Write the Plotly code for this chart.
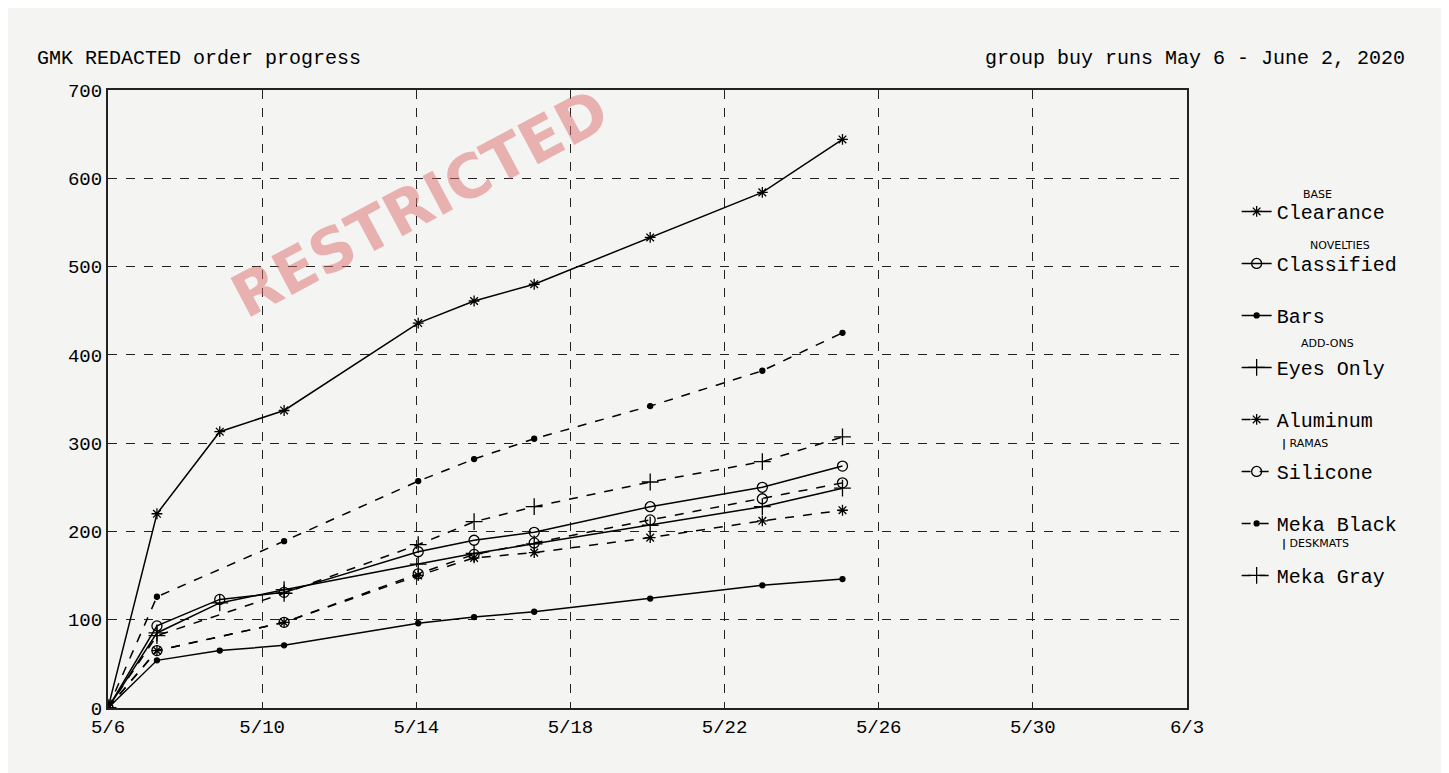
import plotly.graph_objects as go

# days in May when counts were recorded
days = [6, 7.27, 8.9, 10.57, 14.05, 15.5, 17.06, 20.07, 22.98, 25.06]
tick_days = [6, 10, 14, 18, 22, 26, 30, 34]
tick_labels = ['5/6', '5/10', '5/14', '5/18', '5/22', '5/26', '5/30', '6/3']

clearance = [0, 220, 313, 337, 436, 461, 480, 533, 584, 644]
classified = [0, 93, 123, 131, 177, 190, 199, 228, 250, 274]
bars = [0, 54, 65, 71, 96, 103, 109, 124, 139, 146]
eyes_only = [0, 85, 119, 134, 163, 175, 186, 207, 228, 249]
aluminum = [0, 65, None, 97, 150, 170, 176, 193, 212, 224]
silicone = [0, 65, None, 97, 152, 174, 187, 213, 237, 255]
meka_black = [0, 126, None, 189, 257, 282, 305, 342, 382, 425]
meka_gray = [0, 82, None, 130, 185, 211, 228, 256, 279, 307]

series = [
    ('Clearance', clearance, 'solid', 'asterisk-open', 9),
    ('Classified', classified, 'solid', 'circle-open', 10),
    ('Bars', bars, 'solid', 'circle', 5),
    ('Eyes Only', eyes_only, 'solid', 'cross-thin-open', 12),
    ('Aluminum', aluminum, 'dash', 'asterisk-open', 9),
    ('Silicone', silicone, 'dash', 'circle-open', 10),
    ('Meka Black', meka_black, 'dash', 'circle', 5),
    ('Meka Gray', meka_gray, 'dash', 'cross-thin-open', 12),
]

mono = 'Liberation Mono, Courier New, monospace'
fig = go.Figure()
for name, vals, dash, sym, size in series:
    fig.add_trace(go.Scatter(
        x=days, y=vals, name=name, legendgroup=name, mode='lines+markers', connectgaps=True,
        line=dict(color='black', width=1.5, dash=dash),
        marker=dict(symbol=sym, size=size, color='black', line=dict(color='black', width=1.3)),
    ))

axis_style = dict(showline=True, linecolor='#222', linewidth=2, mirror=True,
                  showgrid=True, gridcolor='#222', griddash='dash', gridwidth=1,
                  ticks='', zeroline=False, tickfont=dict(family=mono, size=19, color='black'))
fig.update_xaxes(range=[6, 34], tickvals=tick_days, ticktext=tick_labels, **axis_style)
fig.update_yaxes(range=[0, 700], dtick=100, **axis_style)

fig.update_layout(
    width=1449, height=773,
    margin=dict(l=100, r=270, t=82, b=73),
    paper_bgcolor='#f4f4f2', plot_bgcolor='#f4f4f2',
    font=dict(family=mono, color='black'),
    legend=dict(x=1.046, y=0.835, yanchor='top', font=dict(size=20, family=mono),
                tracegroupgap=23, bgcolor='rgba(0,0,0,0)'),
)

fig.add_annotation(text='GMK REDACTED order progress', xref='paper', yref='paper',
                   x=-0.068, y=1.073, xanchor='left', showarrow=False, font=dict(size=20))
fig.add_annotation(text='group buy runs May 6 - June 2, 2020', xref='paper', yref='paper',
                   x=1.204, y=1.073, xanchor='right', showarrow=False, font=dict(size=20))
fig.add_annotation(text='<b>RESTRICTED</b>', x=14.1, y=572, showarrow=False, textangle=-28,
                   font=dict(size=60, family='DejaVu Sans', color='rgba(220,110,110,0.5)'))

hand = dict(xref='paper', yref='paper', showarrow=False, xanchor='left',
            font=dict(size=11, family='DejaVu Sans'))
for txt, xx, yy in [('BASE', 1.106, 0.845), ('NOVELTIES', 1.112, 0.762), ('ADD-ONS', 1.104, 0.59),
                    ('<b>|</b> RAMAS', 1.086, 0.428), ('<b>|</b> DESKMATS', 1.086, 0.253)]:
    fig.add_annotation(text=txt, x=xx, y=yy, **hand)

fig.write_html('out.html')
